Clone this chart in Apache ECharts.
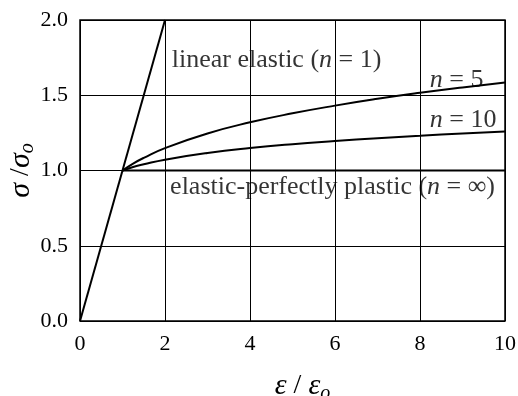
<!DOCTYPE html>
<html>
<head>
<meta charset="utf-8">
<script src="https://cdn.jsdelivr.net/npm/echarts@6/dist/echarts.min.js"></script>
<style>
html,body{margin:0;padding:0;background:#fff;}
#chart{width:518px;height:396px;}
</style>
</head>
<body>
<div id="chart"></div>
<script>
// Normalised stress-strain curves, sigma/sigma_o vs eps/eps_o
var xTicks = [0, 2, 4, 6, 8, 10];
var yTicks = [0.0, 0.5, 1.0, 1.5, 2.0];

var linearX = [0, 2];
var linearY = [0, 2];

var hardenX = [1, 1.25, 1.5, 2, 3, 4, 5, 6, 7, 8, 9, 10];
var n5Y  = [1, 1.046, 1.084, 1.149, 1.246, 1.320, 1.380, 1.431, 1.476, 1.516, 1.552, 1.585];
var n10Y = [1, 1.023, 1.041, 1.072, 1.116, 1.149, 1.175, 1.196, 1.215, 1.231, 1.246, 1.259];

var plasticX = [1, 10];
var plasticY = [1, 1];

// label anchors (data coordinates) and text
var labelPos = [[2.16, 1.735], [8.23, 1.60], [8.23, 1.336], [2.12, 0.89]];
var labelText = [
  '{t|linear elastic (}{i|n}{t| = 1)}',
  '{i|n}{t| = 5}',
  '{i|n}{t| = 10}',
  '{t|elastic-perfectly plastic (}{i|n}{t| = \u221e)}'
];

function pairs(xs, ys) { return xs.map(function (x, i) { return [x, ys[i]]; }); }

var serif = '"Liberation Serif", "DejaVu Serif", serif';
var lineStyle = { color: '#000', width: 2 };

var chart = echarts.init(document.getElementById('chart'));
chart.setOption({
  animation: false,
  backgroundColor: '#fff',
  grid: { left: 80, right: 13, top: 20, bottom: 75, containLabel: false, outerBoundsMode: 'none',
    show: true, borderColor: '#000', borderWidth: 1.5 },
  xAxis: {
    type: 'value', min: 0, max: 10, interval: 2,
    axisLine: { show: false }, axisTick: { show: false },
    splitLine: { show: true, lineStyle: { color: '#000', width: 1 } },
    axisLabel: { color: '#000', fontFamily: serif, fontSize: 22, margin: 12,
      formatter: function (v) { return xTicks.indexOf(v) >= 0 ? String(v) : ''; } },
    name: '{i|\u03b5}{t| / }{i|\u03b5}{s|o}',
    nameLocation: 'middle', nameGap: 47, nameMoveOverlap: false,
    nameTextStyle: { padding: [0, 0, 0, 20], rich: {
      i: { fontFamily: serif, fontStyle: 'italic', fontSize: 30, color: '#000' },
      t: { fontFamily: serif, fontSize: 28, color: '#000' },
      s: { fontFamily: serif, fontStyle: 'italic', fontSize: 20, color: '#000', padding: [16, 0, 0, 0] }
    } }
  },
  yAxis: {
    type: 'value', min: 0, max: 2, interval: 0.5,
    axisLine: { show: false }, axisTick: { show: false },
    splitLine: { show: true, lineStyle: { color: '#000', width: 1 } },
    axisLabel: { color: '#000', fontFamily: serif, fontSize: 22, margin: 12,
      formatter: function (v) { return yTicks.indexOf(v) >= 0 ? v.toFixed(1) : ''; } },
    name: '{i|\u03c3}{t| /}{i|\u03c3}{s|o}',
    nameLocation: 'middle', nameGap: 42, nameRotate: 90, nameMoveOverlap: false,
    nameTextStyle: { rich: {
      i: { fontFamily: serif, fontStyle: 'italic', fontSize: 30, color: '#000' },
      t: { fontFamily: serif, fontSize: 28, color: '#000' },
      s: { fontFamily: serif, fontStyle: 'italic', fontSize: 20, color: '#000', padding: [14, 0, 0, 0] }
    } }
  },
  series: [
    { type: 'line', data: pairs(linearX, linearY), showSymbol: false, lineStyle: lineStyle },
    { type: 'line', data: pairs(hardenX, n5Y), smooth: true, showSymbol: false, lineStyle: lineStyle },
    { type: 'line', data: pairs(hardenX, n10Y), smooth: true, showSymbol: false, lineStyle: lineStyle },
    { type: 'line', data: pairs(plasticX, plasticY), showSymbol: false, lineStyle: lineStyle },
    {
      type: 'scatter', symbolSize: 0, silent: true,
      data: labelPos.map(function (p, i) {
        return { value: p, label: { formatter: labelText[i] } };
      }),
      label: {
        show: true, position: 'right', distance: 0,
        rich: {
          t: { fontFamily: serif, fontSize: 26, color: '#000' },
          i: { fontFamily: serif, fontStyle: 'italic', fontSize: 26, color: '#000' }
        }
      }
    }
  ]
});
</script>
</body>
</html>
